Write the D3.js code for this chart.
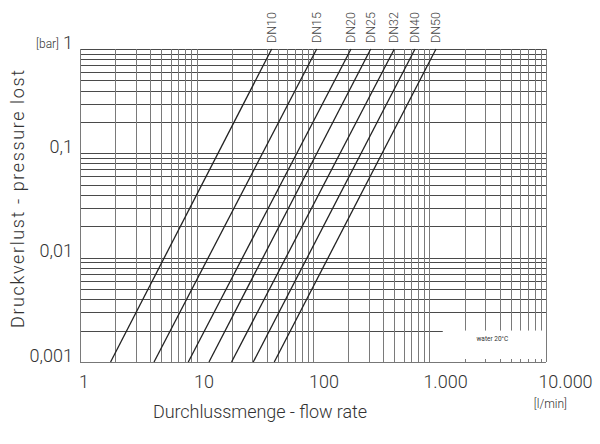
<!DOCTYPE html>
<html><head><meta charset="utf-8">
<script src="https://cdn.jsdelivr.net/npm/d3@7/dist/d3.min.js"></script>
<style>
body{margin:0;background:#fff;}
svg{display:block;}
text{font-family:Roboto,"DejaVu Sans Condensed",sans-serif;font-weight:300;fill:#333;}
</style></head>
<body>
<svg id="c" width="600" height="444"></svg>
<script>
// ---- data ----
const sizes = ["DN10","DN15","DN20","DN25","DN32","DN40","DN50"];
const flowAtMinLoss = [1.83, 4.32, 8.5, 12.8, 20.0, 30.7, 46.5];   // l/min at 0.001 bar
const flowAtMaxLoss = [44.2, 107.6, 212, 313, 499, 751, 1137];      // l/min at 1 bar
const lossRange = [0.001, 1];
const xTickValues = [1, 10, 100, 1000, 10000];
const xTickLabels = ["1", "10", "100", "1.000", "10.000"];
const yTickValues = [0.001, 0.01, 0.1, 1];
const yTickLabels = ["0,001", "0,01", "0,1", "1"];
const noteText = "water 20°C";
const noteFlowStart = 1300, noteLossTop = 0.002;

// ---- layout ----
const L = 80, R = 546, T = 49, B = 362;
const svg = d3.select("#c");
const x = d3.scaleLog().domain([1, 10000]).range([L, R]);
const y = d3.scaleLog().domain([0.001, 1]).range([B, T]);

const xGrid = [];
for (let d = 1; d < 10000; d *= 10) for (let m = 1; m <= 9; m++) xGrid.push(d * m);
xGrid.push(10000);
const yGrid = [];
for (let d = 0.001; d < 0.9; d *= 10) for (let m = 1; m <= 9; m++) yGrid.push(+(d * m).toPrecision(3));
yGrid.push(1);

const grid = svg.append("g");
grid.selectAll("line.h").data(yGrid).join("line")
  .attr("x1", L).attr("x2", d => (d === noteLossTop ? x(noteFlowStart) : R))
  .attr("y1", d => Math.round(y(d)) + 0.5).attr("y2", d => Math.round(y(d)) + 0.5)
  .attr("stroke", "#4a4a4a").attr("stroke-width", 1);
grid.selectAll("line.v").data(xGrid).join("line")
  .attr("x1", d => Math.round(x(d)) + 0.5).attr("x2", d => Math.round(x(d)) + 0.5)
  .attr("y1", T)
  .attr("y2", d => (d > 1000 && d < 10000 ? y(noteLossTop) : B))
  .attr("stroke", "#7a7a7a").attr("stroke-width", 1);
grid.selectAll("line.t").data(xGrid.filter(d => d > 1000 && d < 10000)).join("line")
  .attr("x1", d => Math.round(x(d)) + 0.5).attr("x2", d => Math.round(x(d)) + 0.5)
  .attr("y1", B - 3).attr("y2", B)
  .attr("stroke", "#7a7a7a");
grid.append("line").attr("x1", L).attr("x2", R).attr("y1", Math.round(y(0.001)) + 0.5).attr("y2", Math.round(y(0.001)) + 0.5)
  .attr("stroke", "#777");

svg.append("text").attr("x", (x(noteFlowStart) + R) / 2 - 2).attr("y", (y(noteLossTop) + B) / 2 - 5)
  .attr("text-anchor", "middle").style("font-size", "6.5px").style("font-weight", "400")
  .text(noteText);

const lines = svg.append("g");
sizes.forEach((s, i) => {
  lines.append("line")
    .attr("x1", x(flowAtMinLoss[i])).attr("y1", y(lossRange[0]))
    .attr("x2", x(flowAtMaxLoss[i])).attr("y2", y(lossRange[1]))
    .attr("stroke", "#222").attr("stroke-width", 1.3);
  lines.append("text")
    .attr("transform", `translate(${x(flowAtMaxLoss[i]) + 4},${T - 6}) rotate(-90)`)
    .style("font-size", "12.5px").style("fill", "#444")
    .text(s);
});

const xAxis = d3.axisBottom(x).tickValues(xTickValues).tickSize(0)
  .tickFormat((d, i) => xTickLabels[i]);
const gx = svg.append("g").attr("transform", `translate(0,${B + 10})`).call(xAxis);
gx.select(".domain").remove();
gx.selectAll("text").style("font-size", "18px").attr("text-anchor", "start").attr("fill", "#333")
  .style("font-family", null).style("font-weight", null).attr("font-family", null)
  .each(function() { const w = this.getComputedTextLength(); d3.select(this).attr("dx", -0.15 * w); });

const yAxis = d3.axisLeft(y).tickValues(yTickValues).tickSize(0)
  .tickFormat((d, i) => yTickLabels[i]);
const gy = svg.append("g").attr("transform", `translate(${L - 7},0)`).call(yAxis);
gy.select(".domain").remove();
gy.attr("font-family", null);
gx.attr("font-family", null);
gy.selectAll("text").style("font-size", "18px").attr("dy", "-1").attr("x", 0).attr("fill", "#333");

svg.append("text").attr("x", 59).attr("y", 48).attr("text-anchor", "end").style("font-size", "12px").text("[bar]");
svg.append("text").attr("x", 567).attr("y", 408).attr("text-anchor", "end").style("font-size", "12px").text("[l/min]");

svg.append("text").attr("x", 260).attr("y", 418).attr("text-anchor", "middle").style("font-size", "18px")
  .attr("textLength", 214).text("Durchlussmenge - flow rate");
svg.append("text").attr("transform", "translate(24,199) rotate(-90)").attr("text-anchor", "middle")
  .style("font-size", "18px").attr("textLength", 258).text("Druckverlust  -  pressure  lost");
</script>
</body></html>
